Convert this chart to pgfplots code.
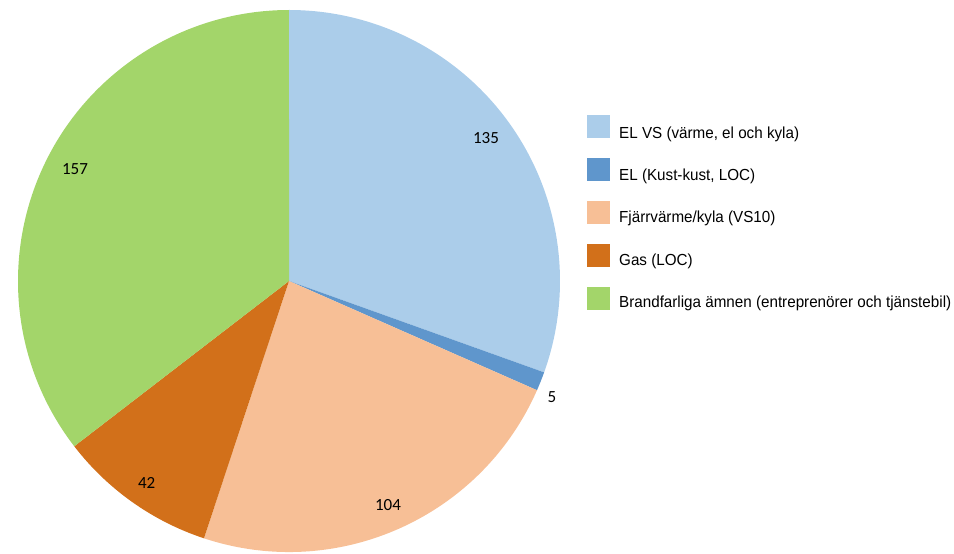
\documentclass[border=0pt]{standalone}
\usepackage{pgfplots}
\pgfplotsset{compat=1.18}
\usetikzlibrary{calc}
\usepackage{fontspec}
\setmainfont{Carlito}
\newfontfamily\legfont[FakeStretch=0.95]{Liberation Sans}
\definecolor{c1}{HTML}{ABCDEA}
\definecolor{c2}{HTML}{5F96CC}
\definecolor{c3}{HTML}{F7BF96}
\definecolor{c4}{HTML}{D2701A}
\definecolor{c5}{HTML}{A3D56A}
\begin{document}
\begin{tikzpicture}
% data values
\def\va{135}\def\vb{5}\def\vc{104}\def\vd{42}\def\ve{157}
\pgfmathsetmacro\tot{\va+\vb+\vc+\vd+\ve}
\pgfmathsetmacro\unitang{360/\tot}
\pgfmathsetmacro\sA{90}
\pgfmathsetmacro\sB{\sA-\va*\unitang}
\pgfmathsetmacro\sC{\sB-\vb*\unitang}
\pgfmathsetmacro\sD{\sC-\vc*\unitang}
\pgfmathsetmacro\sE{\sD-\vd*\unitang}
\pgfmathsetmacro\sF{\sE-\ve*\unitang}
\def\cx{289}\def\cy{273}\def\R{271}
\def\numfont{\fontsize{17}{20}\selectfont}
\begin{axis}[x=1pt,y=1pt,xmin=0,xmax=954,ymin=0,ymax=554,hide axis,clip=false]
\coordinate (ll) at (axis cs:0,0);
\coordinate (ur) at (axis cs:954,554);
\fill[c1] (axis cs:\cx,\cy) -- ++(\sA:\R pt) arc[start angle=\sA, end angle=\sB, radius=\R pt] -- cycle;
\fill[c2] (axis cs:\cx,\cy) -- ++(\sB:\R pt) arc[start angle=\sB, end angle=\sC, radius=\R pt] -- cycle;
\fill[c3] (axis cs:\cx,\cy) -- ++(\sC:\R pt) arc[start angle=\sC, end angle=\sD, radius=\R pt] -- cycle;
\fill[c4] (axis cs:\cx,\cy) -- ++(\sD:\R pt) arc[start angle=\sD, end angle=\sE, radius=\R pt] -- cycle;
\fill[c5] (axis cs:\cx,\cy) -- ++(\sE:\R pt) arc[start angle=\sE, end angle=\sF, radius=\R pt] -- cycle;
\node[font=\numfont] at (axis cs:486,415.5) {\va};
\node[font=\numfont] at (axis cs:552,157) {\vb};
\node[font=\numfont] at (axis cs:388,48.5) {\vc};
\node[font=\numfont] at (axis cs:146.7,71.5) {\vd};
\node[font=\numfont] at (axis cs:75,385) {\ve};
% legend
\fill[c1] (axis cs:587,439) rectangle (axis cs:610,416);
\fill[c2] (axis cs:587,396) rectangle (axis cs:610,373);
\fill[c3] (axis cs:587,353) rectangle (axis cs:610,330);
\fill[c4] (axis cs:587,310) rectangle (axis cs:610,287);
\fill[c5] (axis cs:587,267) rectangle (axis cs:610,244);
\begin{scope}[every node/.style={anchor=base west,inner sep=0pt,font=\legfont\fontsize{16}{19}\selectfont}]
\node at (axis cs:619,415.7) {EL VS (värme, el och kyla)};
\node at (axis cs:619,373.35) {EL (Kust-kust, LOC)};
\node at (axis cs:619,331.0) {Fjärrvärme/kyla (VS10)};
\node at (axis cs:619,288.65) {Gas (LOC)};
\node at (axis cs:619,246.3) {Brandfarliga ämnen (entreprenörer och tjänstebil)};
\end{scope}
\end{axis}
\pgfresetboundingbox
\useasboundingbox (ll) rectangle (ur);
\end{tikzpicture}
\end{document}
